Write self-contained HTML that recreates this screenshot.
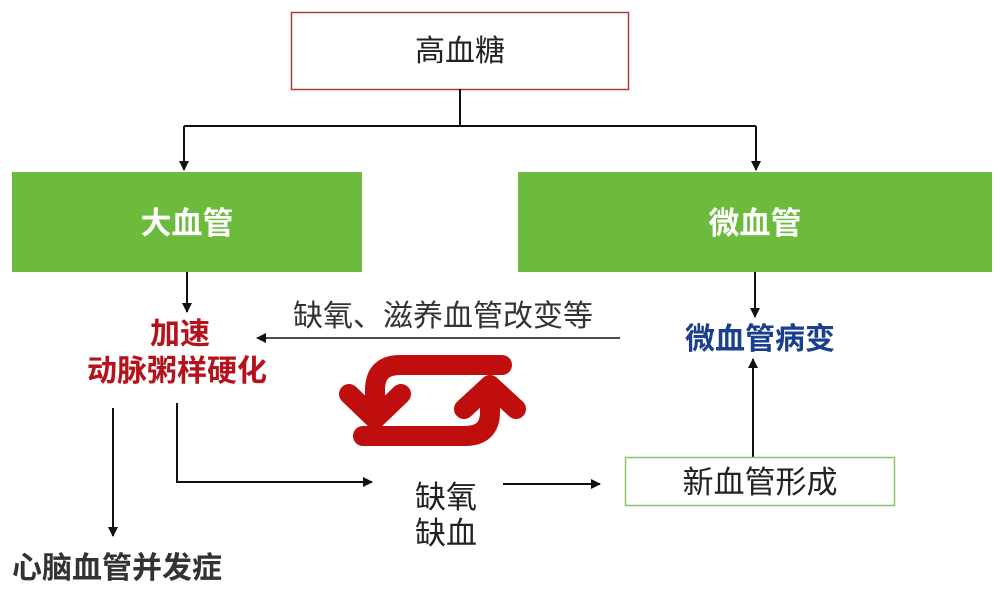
<!DOCTYPE html>
<html><head><meta charset="utf-8"><style>
html,body{margin:0;padding:0;background:#fff;}
svg{display:block;}
text{font-family:"Liberation Sans","Noto Sans CJK SC",sans-serif;}
</style></head><body>
<svg width="1000" height="589" viewBox="0 0 1000 589" xmlns="http://www.w3.org/2000/svg">
<defs>
<marker id="ah" markerWidth="10" markerHeight="10" refX="9" refY="5" orient="auto" markerUnits="userSpaceOnUse">
<path d="M0,0 L10,5 L0,10 z" fill="#111"/>
</marker>
</defs>
<rect width="1000" height="589" fill="#fff"/>
<rect x="291.5" y="12.5" width="337" height="77" fill="#fff" stroke="#b03a3a" stroke-width="1.5"/>
<text x="460" y="61" font-size="30" text-anchor="middle" fill="#222">高血糖</text>
<path d="M460,89 V126 M184,126 H756" stroke="#111" stroke-width="2" fill="none"/>
<path d="M184,126 V170" stroke="#111" stroke-width="2" fill="none" marker-end="url(#ah)"/>
<path d="M756,126 V170" stroke="#111" stroke-width="2" fill="none" marker-end="url(#ah)"/>
<rect x="12" y="172" width="350" height="100" fill="#6cbb3c"/>
<text x="187" y="234" font-size="31" font-weight="bold" text-anchor="middle" fill="#fff">大血管</text>
<rect x="518" y="172" width="474" height="100" fill="#6cbb3c"/>
<text x="755" y="234" font-size="31" font-weight="bold" text-anchor="middle" fill="#fff">微血管</text>
<path d="M187,272 V312" stroke="#111" stroke-width="2" fill="none" marker-end="url(#ah)"/>
<text x="180" y="344" font-size="30" font-weight="bold" text-anchor="middle" fill="#b5121b">加速</text>
<text x="177" y="381" font-size="30" font-weight="bold" text-anchor="middle" fill="#b5121b">动脉粥样硬化</text>
<path d="M113,408 V536" stroke="#111" stroke-width="2" fill="none" marker-end="url(#ah)"/>
<text x="117" y="578" font-size="30" font-weight="bold" text-anchor="middle" fill="#333">心脑血管并发症</text>
<path d="M177,403 V482 H372" stroke="#111" stroke-width="2" fill="none" marker-end="url(#ah)"/>
<text x="443" y="326" font-size="30" text-anchor="middle" fill="#333">缺氧、滋养血管改变等</text>
<path d="M620,338 H257" stroke="#111" stroke-width="1.5" fill="none" marker-end="url(#ah)"/>
<g fill="none" stroke="#c00d0d" stroke-width="20" stroke-linecap="round" stroke-linejoin="round">
<path d="M502,365 H400 Q375,365 375,390 V412"/>
<path d="M349,394 L375,419 L401,394"/>
<path d="M363,436 H465 Q490,436 490,412 V392"/>
<path d="M464,409 L490,385 L516,409"/>
</g>
<text x="446" y="508" font-size="31" text-anchor="middle" fill="#222">缺氧</text>
<text x="446" y="544" font-size="31" text-anchor="middle" fill="#222">缺血</text>
<path d="M503,484 H600" stroke="#111" stroke-width="2" fill="none" marker-end="url(#ah)"/>
<path d="M755,272 V317" stroke="#111" stroke-width="2" fill="none" marker-end="url(#ah)"/>
<text x="760" y="349" font-size="30" font-weight="bold" text-anchor="middle" fill="#1a3f8c">微血管病变</text>
<path d="M753,457 V359" stroke="#111" stroke-width="2" fill="none" marker-end="url(#ah)"/>
<rect x="625.5" y="457.5" width="269" height="48" fill="#fff" stroke="#8cc56a" stroke-width="1.5"/>
<text x="760" y="493" font-size="31" text-anchor="middle" fill="#222">新血管形成</text>
</svg>
</body></html>
